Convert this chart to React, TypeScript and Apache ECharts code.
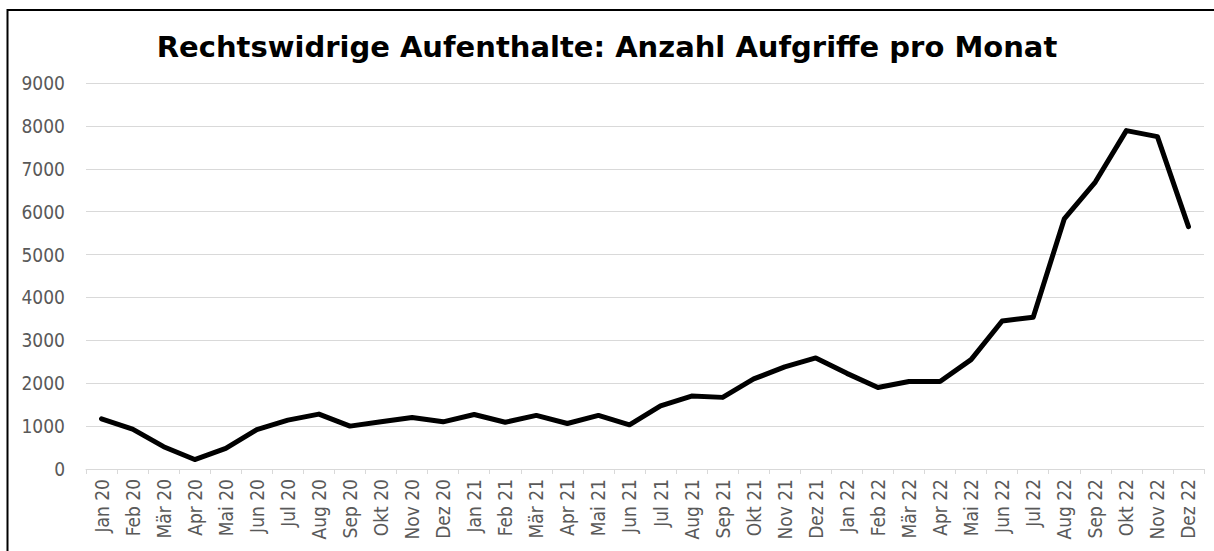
import React, { useEffect, useRef } from "react";
import * as echarts from "echarts";

const months = [
  "Jan 20", "Feb 20", "Mär 20", "Apr 20", "Mai 20", "Jun 20", "Jul 20", "Aug 20", "Sep 20", "Okt 20", "Nov 20", "Dez 20",
  "Jan 21", "Feb 21", "Mär 21", "Apr 21", "Mai 21", "Jun 21", "Jul 21", "Aug 21", "Sep 21", "Okt 21", "Nov 21", "Dez 21",
  "Jan 22", "Feb 22", "Mär 22", "Apr 22", "Mai 22", "Jun 22", "Jul 22", "Aug 22", "Sep 22", "Okt 22", "Nov 22", "Dez 22",
];

const aufgriffe = [
  1170, 930, 520, 220, 480, 920, 1140, 1280, 1000, 1100, 1200, 1100,
  1270, 1090, 1250, 1060, 1250, 1030, 1470, 1700, 1670, 2100, 2380, 2590,
  2230, 1900, 2040, 2040, 2550, 3450, 3540, 5830, 6690, 7890, 7750, 5650,
];

const titleText = "Rechtswidrige Aufenthalte: Anzahl Aufgriffe pro Monat";
const yMin = 0;
const yMax = 9000;
const yStep = 1000;

export default function App() {
  const ref = useRef<HTMLDivElement>(null);

  useEffect(() => {
    if (!ref.current) return;
    const chart = echarts.init(ref.current, undefined, { renderer: "svg" });
    const labelFont = "'DejaVu Sans Condensed', 'DejaVu Sans', sans-serif";
    chart.setOption({
      animation: false,
      backgroundColor: "#ffffff",
      title: {
        text: titleText,
        left: "center",
        top: 32,
        padding: 0,
        textStyle: {
          fontFamily: "'DejaVu Sans', sans-serif",
          fontWeight: "bold",
          fontSize: 29,
          color: "#000000",
        },
      },
      graphic: [
        {
          type: "rect",
          shape: { x: 7.5, y: 10, width: 1400, height: 800 },
          style: { fill: "none", stroke: "#000000", lineWidth: 2 },
          silent: true,
          z: 100,
        },
      ],
      grid: { left: 86, right: 10, top: 83, bottom: 82, containLabel: false },
      xAxis: {
        type: "category",
        data: months,
        boundaryGap: true,
        axisLine: { show: true, lineStyle: { color: "#d9d9d9", width: 1 } },
        axisTick: { show: true, length: 5, lineStyle: { color: "#d9d9d9" } },
        axisLabel: {
          rotate: 90,
          interval: 0,
          margin: 10,
          color: "#595959",
          fontSize: 19,
          fontFamily: labelFont,
        },
      },
      yAxis: {
        type: "value",
        min: yMin,
        max: yMax,
        interval: yStep,
        axisLine: { show: false },
        axisTick: { show: false },
        splitLine: { lineStyle: { color: "#d9d9d9", width: 1 } },
        axisLabel: {
          margin: 21,
          color: "#595959",
          fontSize: 19,
          fontFamily: labelFont,
          formatter: (v: number) => String(v),
        },
      },
      series: [
        {
          type: "line",
          data: aufgriffe,
          showSymbol: false,
          symbol: "none",
          lineStyle: { color: "#000000", width: 5, join: "round", cap: "round" },
        },
      ],
    });
    return () => chart.dispose();
  }, []);

  return (
    <div
      ref={ref}
      style={{ position: "fixed", left: 0, top: 0, width: 1214, height: 551 }}
    />
  );
}
